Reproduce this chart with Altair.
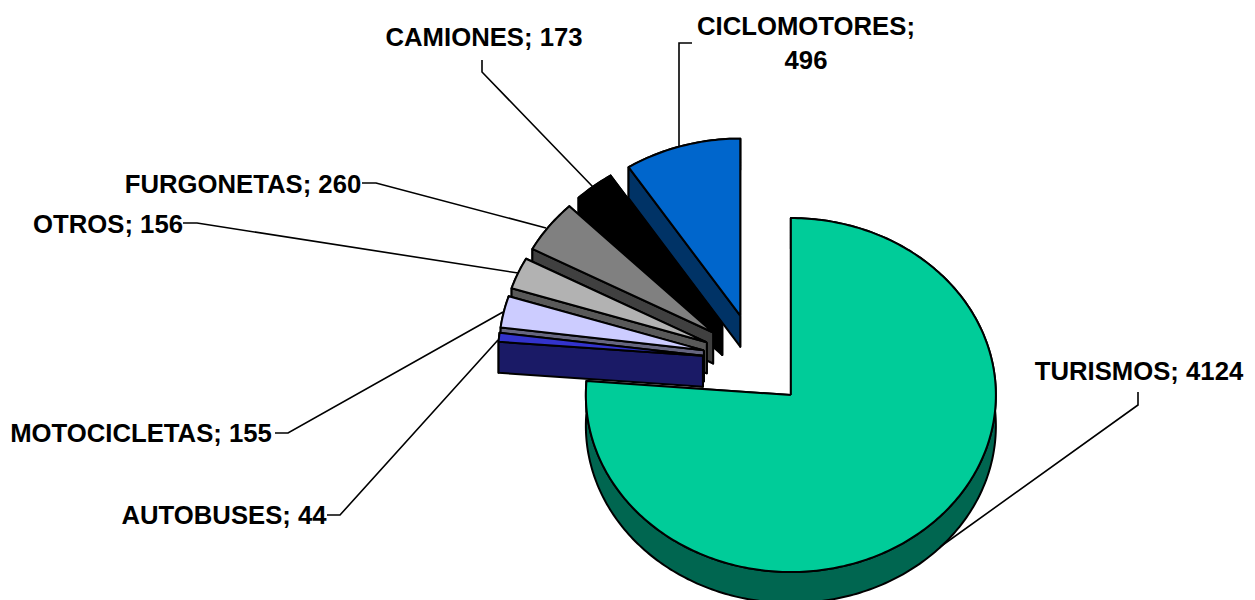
import numpy as np
import pandas as pd
import altair as alt

categories = ["TURISMOS", "AUTOBUSES", "MOTOCICLETAS", "OTROS", "FURGONETAS", "CAMIONES", "CICLOMOTORES"]
values = [4124, 44, 155, 156, 260, 173, 496]
top_colors = ["#00CC99", "#3333CC", "#CCCCFF", "#B2B2B2", "#808080", "#000000", "#0066CC"]
wall_colors = ["#006650", "#1A1A66", "#666680", "#595959", "#404040", "#000000", "#003366"]

# Label layout (page pixels)
label_lines = [["TURISMOS; 4124"], ["AUTOBUSES; 44"], ["MOTOCICLETAS; 155"], ["OTROS; 156"],
               ["FURGONETAS; 260"], ["CAMIONES; 173"], ["CICLOMOTORES;", "496"]]
label_x = [1139, 224, 141, 108, 243, 484, 806]
label_y = [372, 516, 434, 225, 185, 38, 27]
leaders = [
    [(1138, 392), (1138, 405), (940, 547)],
    [(327, 515), (340, 515), (498, 340)],
    [(275, 433), (288, 433), (503, 312)],
    [(183, 223), (197, 223), (518, 273)],
    [(362, 183), (376, 183), (546, 228)],
    [(482, 60), (482, 72), (593, 187)],
    [(692, 43), (679, 43), (679, 147)],
]

CX, CY, RX, RY, DEPTH, EXPLODE_X, EXPLODE_Y = 755.2, 360.6, 205.0, 177.0, 31.0, 0.2564, 0.265
W, H = 1239, 592
X_DOM, Y_DOM = [8, 8 + W], [8, 8 + H]
xs = alt.X("x:Q", scale=alt.Scale(domain=X_DOM, nice=False, zero=False), axis=None)
ys = alt.Y("y:Q", scale=alt.Scale(domain=Y_DOM, nice=False, zero=False, reverse=True), axis=None)


def poly(pts, fill):
    pts = list(pts) + [pts[0]]
    df = pd.DataFrame({"x": [p[0] for p in pts], "y": [p[1] for p in pts], "i": range(len(pts))})
    return alt.Chart(df).mark_line(fill=fill, stroke="black", strokeWidth=2, strokeJoin="round").encode(
        x=xs, y=ys, order=alt.Order("i:Q"))


total = sum(values)
slices = []
start = 0.0
for v, top, wall in zip(values, top_colors, wall_colors):
    sweep = 2 * np.pi * v / total
    mid = start + sweep / 2
    cx = CX + EXPLODE_X * RX * np.sin(mid)
    cy = CY - EXPLODE_Y * RY * np.cos(mid)
    th = np.linspace(start, start + sweep, max(4, int(sweep * 60)))
    arc = [(cx + RX * np.sin(t), cy - RY * np.cos(t)) for t in th]
    down = lambda p: (p[0], p[1] + DEPTH)
    cut = lambda e: poly([(cx, cy), e, down(e), (cx, cy + DEPTH)], wall)
    # hidden cut wall, outer wall, visible cut wall, then the top face
    parts = [cut(arc[-1]), poly(arc + [down(p) for p in reversed(arc)], wall), cut(arc[0]),
             poly([(cx, cy)] + arc, top)]
    slices.append(parts)
    start += sweep

# Paint order: the big slice first, then the small ones anticlockwise
layers = list(slices[0])
for parts in reversed(slices[1:]):
    layers += parts

for line in leaders:
    df = pd.DataFrame({"x": [p[0] for p in line], "y": [p[1] for p in line], "i": range(len(line))})
    layers.append(alt.Chart(df).mark_line(color="black", strokeWidth=1.6).encode(
        x=xs, y=ys, order=alt.Order("i:Q")))

rows = []
for lines, lx, ly in zip(label_lines, label_x, label_y):
    for k, t in enumerate(lines):
        rows.append({"x": lx, "y": ly + 34 * k, "t": t})
layers.append(alt.Chart(pd.DataFrame(rows)).mark_text(
    font="Liberation Sans", fontWeight="bold", fontSize=25.7, align="center", baseline="middle", color="black"
).encode(x=xs, y=ys, text="t:N"))

chart = alt.layer(*layers).properties(
    width=W, height=H, padding=0, autosize=alt.AutoSizeParams(type="none")
).configure_view(stroke=None)
chart.save("out.html", embed_options={"renderer": "svg", "actions": False})
